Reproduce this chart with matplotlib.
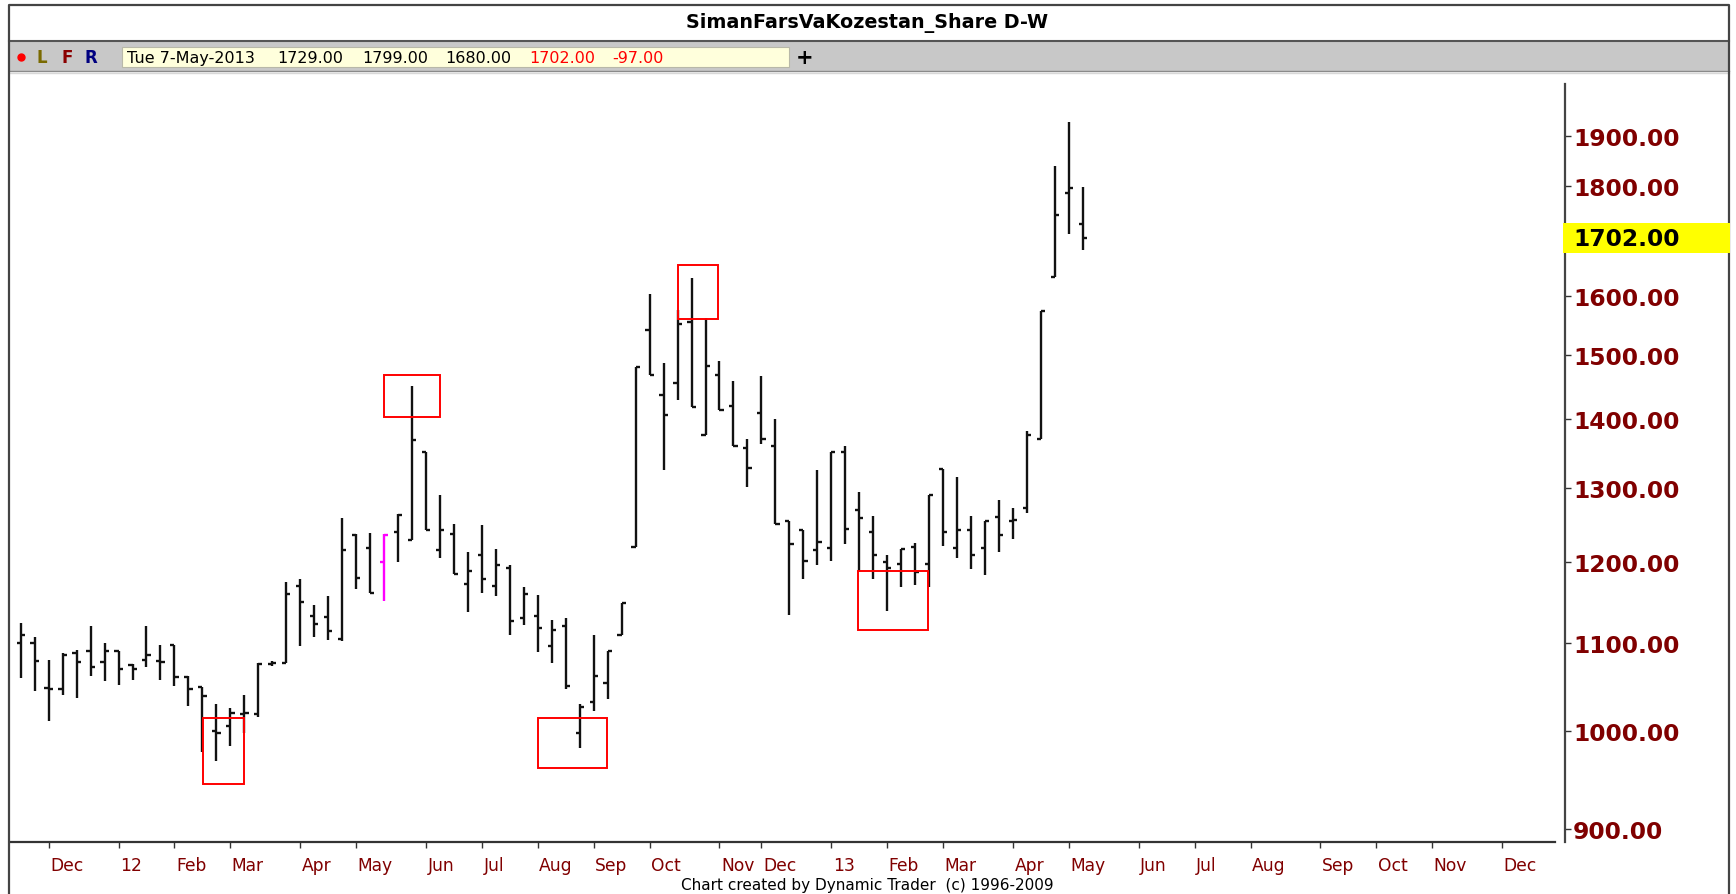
import numpy as np
import matplotlib
matplotlib.use("Agg")
import matplotlib.pyplot as plt
from matplotlib.collections import LineCollection
from matplotlib.patches import Rectangle
from matplotlib.lines import Line2D
import matplotlib.transforms as mtransforms
from matplotlib.ticker import FuncFormatter, NullLocator
from matplotlib import font_manager

# ---------------- data (weekly OHLC, bar index = week) ----------------
opens = [1100, 1100, 1048, 1047, 1088, 1090, 1078, 1090, 1074, 1080,
         1079, 1098, 1060, 1049, 1000, 1006, 1019, 1019, 1075, 1076,
         1170, 1133, 1131, 1105, 1236, 1218, 1200, 1240, 1229, 1352,
         1216, 1237, 1172, 1209, 1170, 1193, 1130, 1132, 1096, 1120,
         998, 1032, 1054, 1110, 1220, 1541, 1438, 1456, 1555, 1376,
         1469, 1420, 1357, 1410, 1361, 1254, 1242, 1216, 1218, 1352,
         1270, 1240, 1200, 1198, 1220, 1198, 1327, 1218, 1243, 1218,
         1260, 1254, 1272, 1371, 1633, 1787, 1729]
highs = [1124, 1107, 1080, 1088, 1092, 1120, 1100, 1090, 1075, 1120,
         1098, 1098, 1061, 1049, 1030, 1026, 1040, 1076, 1079, 1175,
         1179, 1146, 1157, 1259, 1237, 1239, 1237, 1264, 1451, 1352,
         1291, 1250, 1214, 1249, 1217, 1196, 1169, 1158, 1128, 1130,
         1030, 1110, 1091, 1149, 1481, 1602, 1488, 1576, 1630, 1561,
         1491, 1459, 1371, 1467, 1401, 1254, 1242, 1325, 1352, 1361,
         1295, 1261, 1210, 1217, 1225, 1291, 1327, 1315, 1261, 1254,
         1284, 1272, 1383, 1573, 1839, 1930, 1799]
lows = [1059, 1044, 1011, 1040, 1037, 1061, 1056, 1051, 1057, 1072,
        1057, 1050, 1028, 978, 968, 984, 998, 1016, 1073, 1076,
        1096, 1107, 1103, 1102, 1166, 1161, 1151, 1200, 1229, 1242,
        1205, 1185, 1137, 1161, 1157, 1110, 1122, 1089, 1076, 1047,
        982, 1022, 1036, 1110, 1220, 1469, 1326, 1429, 1419, 1376,
        1414, 1361, 1302, 1363, 1251, 1134, 1178, 1196, 1202, 1224,
        1188, 1178, 1138, 1169, 1171, 1169, 1221, 1206, 1191, 1184,
        1213, 1230, 1265, 1371, 1633, 1709, 1680]
closes = [1110, 1079, 1047, 1086, 1078, 1072, 1090, 1070, 1070, 1086,
          1078, 1060, 1047, 1039, 998, 1020, 1020, 1075, 1077, 1160,
          1150, 1123, 1114, 1216, 1180, 1161, 1236, 1263, 1369, 1242,
          1243, 1185, 1189, 1179, 1196, 1126, 1160, 1118, 1116, 1050,
          1027, 1062, 1091, 1149, 1481, 1469, 1406, 1552, 1419, 1483,
          1414, 1361, 1329, 1371, 1251, 1224, 1202, 1227, 1352, 1244,
          1259, 1209, 1192, 1217, 1187, 1291, 1240, 1243, 1209, 1254,
          1236, 1256, 1377, 1573, 1746, 1796, 1702]
highlight_bar = 26          # magenta bar

# red rectangles: (start week, end week, low price, high price)
box_x0 = [13.07, 26.0, 37.0, 47.0, 59.9]
box_x1 = [16.0, 30.0, 41.93, 49.9, 64.9]
box_lo = [945, 1403, 961, 1560, 1115]
box_hi = [1015, 1469, 1015, 1654, 1189]

month_pos = [2, 7, 11, 15, 20, 24, 29, 33, 37, 41, 45, 50, 53, 58, 62, 66,
             71, 75, 80, 84, 88, 93, 97, 101, 106]
month_labels = ["Dec", "12", "Feb", "Mar", "Apr", "May", "Jun", "Jul", "Aug",
                "Sep", "Oct", "Nov", "Dec", "13", "Feb", "Mar", "Apr", "May",
                "Jun", "Jul", "Aug", "Sep", "Oct", "Nov", "Dec"]
y_ticks = [900, 1000, 1100, 1200, 1300, 1400, 1500, 1600, 1800, 1900]
last_price = 1702.00

title = "SimanFarsVaKozestan_Share D-W"
info_date = "Tue 7-May-2013"
info_vals = ["1729.00", "1799.00", "1680.00"]
info_red = ["1702.00", "-97.00"]

# ---------------- figure ----------------
W, H = 1736, 895
fig = plt.figure(figsize=(W / 100, H / 100), dpi=100)
fig.patch.set_facecolor("white")


def fx(px):
    return px / W


def fy(py):
    return 1 - py / H


avail = {f.name for f in font_manager.fontManager.ttflist}
narrow = "Liberation Sans Narrow" if "Liberation Sans Narrow" in avail else None

# header / toolbar
fig.add_artist(Rectangle((fx(9), fy(72)), fx(1729) - fx(9), fy(42) - fy(72),
                         transform=fig.transFigure, fc="#c8c8c8", ec="none"))
for yy, col, lw in [(42, "#555555", 1.5), (72, "#8a8a8a", 1.0), (74, "#d8d8d8", 1.0)]:
    fig.add_artist(Line2D([fx(9), fx(1729)], [fy(yy), fy(yy)],
                          transform=fig.transFigure, color=col, lw=lw))
# outer frame
fig.add_artist(Line2D([fx(9), fx(9), fx(1729), fx(1729)],
                      [fy(895), fy(6), fy(6), fy(895)],
                      transform=fig.transFigure, color="#444444", lw=1.6))

fig.text(fx(867), fy(23), title, ha="center", va="center",
         fontsize=13.8, fontweight="bold", color="black")

# info strip
fig.add_artist(Rectangle((fx(122), fy(68)), fx(789) - fx(122), fy(48) - fy(68),
                         transform=fig.transFigure, fc="#ffffdc", ec="#b8b8a8", lw=0.8))
fig.add_artist(Line2D([fx(21)], [fy(58)], marker="o", ms=5, color="red",
                      transform=fig.transFigure))
fig.text(fx(42), fy(58), "L", ha="center", va="center", fontsize=12,
         fontweight="bold", color="#7a6a00")
fig.text(fx(67), fy(58), "F", ha="center", va="center", fontsize=12,
         fontweight="bold", color="#8b0000")
fig.text(fx(91), fy(58), "R", ha="center", va="center", fontsize=12,
         fontweight="bold", color="#000080")
fig.text(fx(127), fy(58.5), info_date, ha="left", va="center", fontsize=11.5, color="black")
for xp, s in zip([277, 362, 445], info_vals):
    fig.text(fx(xp), fy(58.5), s, ha="left", va="center", fontsize=11.5, color="black")
for xp, s in zip([529, 612], info_red):
    fig.text(fx(xp), fy(58.5), s, ha="left", va="center", fontsize=11.5, color="red")
fig.text(fx(805), fy(58), "+", ha="center", va="center", fontsize=15,
         fontweight="bold", color="black")

fig.text(fx(867), fy(886), "Chart created by Dynamic Trader  (c) 1996-2009",
         ha="center", va="center", fontsize=11, color="black")

# ---------------- price axes ----------------
ax = fig.add_axes([fx(10), fy(843), fx(1565) - fx(10), fy(85) - fy(843)])
ax.set_facecolor("white")
ax.set_yscale("log")
ax.set_ylim(887.5, 2010.0)
ax.set_xlim(-0.766, 110.5)

n = len(opens)
idx = np.arange(n)
tl = 0.3
segs, cols = [], []
for i in idx:
    c = "#ff00ff" if i == highlight_bar else "#111111"
    segs.append([(i, lows[i]), (i, highs[i])])
    segs.append([(i - tl, opens[i]), (i, opens[i])])
    segs.append([(i, closes[i]), (i + tl, closes[i])])
    cols += [c, c, c]
ax.add_collection(LineCollection(segs, colors=cols, linewidths=1.7, capstyle="butt"))

for x0, x1, lo, hi in zip(box_x0, box_x1, box_lo, box_hi):
    ax.add_patch(Rectangle((x0, lo), x1 - x0, hi - lo, fill=False,
                           ec="#ff0000", lw=1.4, zorder=3))

# y axis on right
ax.yaxis.tick_right()
ax.yaxis.set_minor_locator(NullLocator())
ax.set_yticks(y_ticks)
ax.yaxis.set_major_formatter(FuncFormatter(lambda v, p: f"{v:.2f}"))
ax.tick_params(axis="y", which="major", direction="out", length=4.3, width=1.0,
               pad=1.5, labelsize=16.8, labelcolor="#800000", color="#333333")
ax.tick_params(axis="y", which="minor", length=0)
for lab in ax.get_yticklabels():
    lab.set_fontweight("bold")

# x axis
ax.set_xticks(month_pos)
ax.set_xticklabels(month_labels)
xkw = dict(labelsize=13 if narrow else 12.3)
ax.tick_params(axis="x", direction="out", length=4, width=1.0, pad=6,
               labelcolor="#800000", color="#333333", **xkw)
offset = mtransforms.ScaledTranslation(1.5 / 100, 0, fig.dpi_scale_trans)
for lab in ax.get_xticklabels():
    lab.set_horizontalalignment("left")
    lab.set_transform(lab.get_transform() + offset)
    if narrow:
        lab.set_fontfamily(narrow)

for s in ["top", "left"]:
    ax.spines[s].set_visible(False)
ax.spines["bottom"].set_color("#333333")
ax.spines["bottom"].set_linewidth(1.6)
ax.spines["bottom"].set_bounds(-0.766, 109.8)
ax.spines["right"].set_color("#444444")
ax.spines["right"].set_linewidth(1.6)

# last price highlight on the axis
ypix = ax.transData.transform((0, last_price))[1]
xpix = ax.transAxes.transform((1, 0))[0]
fig.add_artist(Rectangle((xpix - 2, ypix - 15), 167, 30,
                         transform=mtransforms.IdentityTransform(),
                         fc="#ffff00", ec="none", zorder=5))
fig.text(fx(1573), ypix / H, f"{last_price:.2f}", ha="left", va="center",
         fontsize=16.8, fontweight="bold", color="black", zorder=6)

fig.savefig("out.png", dpi=100)
